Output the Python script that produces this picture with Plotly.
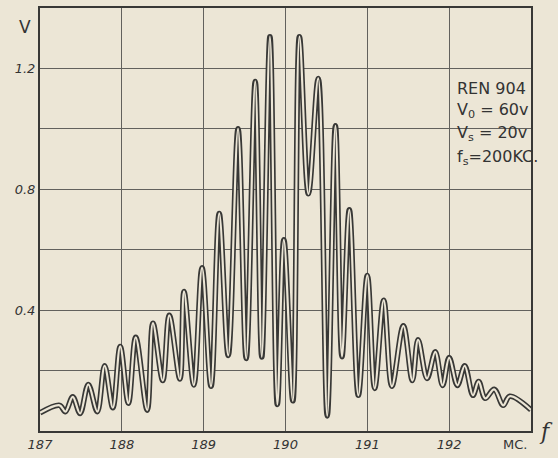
import plotly.graph_objects as go

# extrema of the response curve (frequency in MC, amplitude in V)
freq_mc = [187.00, 187.24, 187.31, 187.40, 187.49, 187.59, 187.70, 187.79, 187.89, 187.98,
           188.08, 188.17, 188.31, 188.38, 188.50, 188.58, 188.71, 188.76, 188.88, 188.98,
           189.09, 189.19, 189.30, 189.42, 189.52, 189.63, 189.71, 189.81, 189.90, 189.98,
           190.09, 190.17, 190.28, 190.40, 190.51, 190.61, 190.69, 190.78, 190.89, 191.00,
           191.09, 191.20, 191.30, 191.44, 191.55, 191.62, 191.73, 191.83, 191.92, 192.00,
           192.10, 192.19, 192.29, 192.36, 192.44, 192.55, 192.66, 192.74, 193.00]
volts = [0.060, 0.085, 0.064, 0.113, 0.058, 0.154, 0.064, 0.216, 0.077, 0.280,
         0.092, 0.310, 0.069, 0.357, 0.167, 0.383, 0.172, 0.462, 0.152, 0.540,
         0.148, 0.720, 0.250, 1.000, 0.240, 1.157, 0.245, 1.305, 0.088, 0.633,
         0.100, 1.305, 0.785, 1.167, 0.050, 1.010, 0.246, 0.732, 0.118, 0.515,
         0.141, 0.433, 0.148, 0.348, 0.167, 0.302, 0.174, 0.262, 0.151, 0.243,
         0.151, 0.216, 0.118, 0.164, 0.108, 0.138, 0.085, 0.115, 0.070]

x_ticks = [187, 188, 189, 190, 191, 192, 193]
x_ticktext = ["187", "188", "189", "190", "191", "192", ""]
y_ticks = [0, 0.2, 0.4, 0.6, 0.8, 1.0, 1.2, 1.4]
y_ticktext = ["", "", "0.4", "", "0.8", "", "1.2", ""]

note_lines = ["REN 904", "V<sub>0</sub> = 60v", "V<sub>s</sub> = 20v", "f<sub>s</sub>=200KC."]

paper = "#ece6d6"
ink = "#383836"
grid = "#62615d"

fig = go.Figure()
fig.add_trace(go.Scatter(x=freq_mc, y=volts, mode="lines",
                         line=dict(color=ink, width=5.5, shape="spline", smoothing=1.0),
                         hoverinfo="skip", showlegend=False))
fig.add_trace(go.Scatter(x=freq_mc, y=volts, mode="lines",
                         line=dict(color=paper, width=2.2, shape="spline", smoothing=1.0),
                         hoverinfo="skip", showlegend=False))

tickfont = dict(family="DejaVu Sans", size=13, color="#333", style="italic")
fig.update_xaxes(range=[187, 193], tickvals=x_ticks, ticktext=x_ticktext,
                 showgrid=True, gridcolor=grid, gridwidth=1.3,
                 showline=True, mirror=True, linecolor=ink, linewidth=2,
                 zeroline=False, ticks="", tickfont=tickfont)
fig.update_yaxes(range=[0, 1.4], tickvals=y_ticks, ticktext=y_ticktext,
                 showgrid=True, gridcolor=grid, gridwidth=1.3,
                 showline=True, mirror=True, linecolor=ink, linewidth=2,
                 zeroline=False, ticks="", tickfont=tickfont)

annotations = []
note_y = [1.134, 1.062, 0.985, 0.905]
for txt, yy in zip(note_lines, note_y):
    annotations.append(dict(x=192.07, y=yy, xref="x", yref="y", text=txt, showarrow=False,
                            xanchor="left", yanchor="middle",
                            font=dict(family="DejaVu Sans", size=16, color="#333")))
annotations.append(dict(x=192.8, y=0, xref="x", yref="y", text="MC.", showarrow=False,
                        xanchor="center", yanchor="top", yshift=-4,
                        font=dict(family="DejaVu Sans", size=13, color="#333")))
annotations.append(dict(x=-0.03, y=0.955, xref="paper", yref="paper", text="V", showarrow=False,
                        xanchor="center", yanchor="middle",
                        font=dict(family="DejaVu Sans", size=17, color="#333")))
annotations.append(dict(x=1.03, y=0.0, xref="paper", yref="paper", text="f", showarrow=False,
                        xanchor="center", yanchor="middle",
                        font=dict(family="DejaVu Serif", size=22, color="#333", style="italic")))

fig.update_layout(width=558, height=458, margin=dict(l=40, r=27, t=6, b=27),
                  paper_bgcolor=paper, plot_bgcolor=paper, annotations=annotations,
                  showlegend=False)

fig.write_html("out.html", config={"displayModeBar": False},
               post_script="document.body.style.margin='0';document.body.style.background='" + paper + "';")
